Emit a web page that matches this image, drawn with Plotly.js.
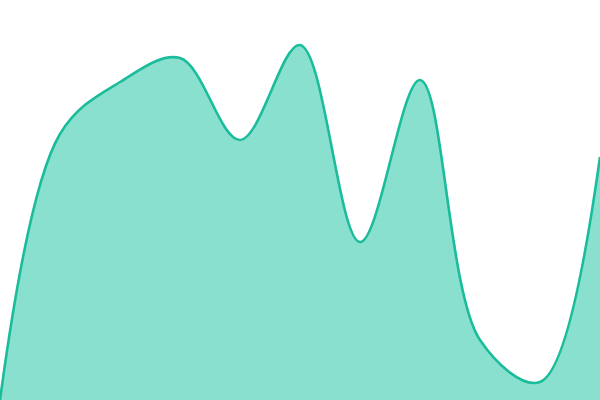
<!DOCTYPE html>
<html>
<head>
<meta charset="utf-8">
<script src="https://cdn.plot.ly/plotly-3.0.1.min.js"></script>
<style>
  html, body { margin: 0; padding: 0; background: #fff; }
  #chart { width: 600px; height: 400px; }
</style>
</head>
<body>
<div id="chart"></div>
<script>
var steps = [0, 1, 2, 3, 4, 5, 6, 7, 8, 9, 10];
var values = [0, 266, 318, 342, 260, 355, 158, 320, 60, 18, 243];

var lineColor = '#1abc9c';

Plotly.newPlot('chart', [{
    x: steps,
    y: values,
    type: 'scatter',
    mode: 'lines',
    fill: 'tozeroy',
    fillcolor: '#8ae0cf',
    line: { color: lineColor, width: 2.6, shape: 'spline', smoothing: 1 },
    hoverinfo: 'none'
}], {
    width: 600,
    height: 400,
    margin: { l: 0, r: 0, t: 0, b: 0 },
    paper_bgcolor: '#fff',
    plot_bgcolor: '#fff',
    showlegend: false,
    xaxis: { range: [0, 10], visible: false, fixedrange: true },
    yaxis: { range: [0, 400], visible: false, fixedrange: true }
}, { displayModeBar: false, staticPlot: true });
</script>
</body>
</html>
